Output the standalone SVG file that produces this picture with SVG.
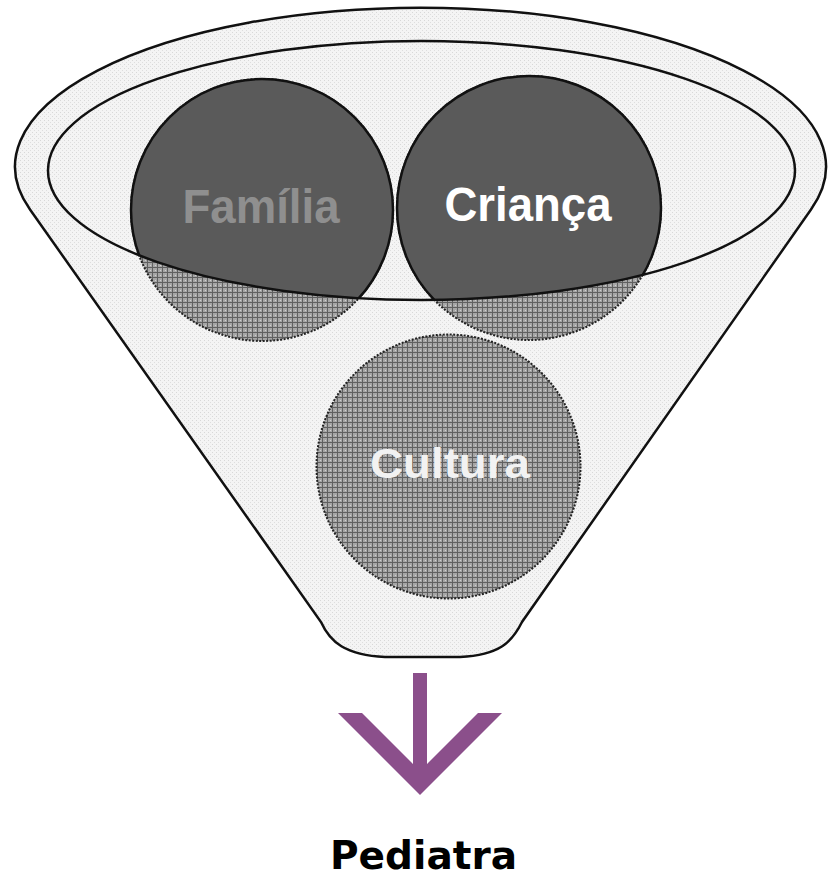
<svg xmlns="http://www.w3.org/2000/svg" width="828" height="879" viewBox="0 0 828 879">
<style>
.outline{fill:none;stroke:#111;stroke-width:2.5}
.dark{fill:#5a5a5a}
.hatch{fill:url(#hatch);stroke:#222;stroke-width:2;stroke-dasharray:2 1.5}
.lbl{font-family:"Liberation Sans",Arial,sans-serif;font-weight:bold;text-anchor:middle}
</style>
<defs>
<pattern id="light" patternUnits="userSpaceOnUse" width="4" height="4">
<rect width="4" height="4" fill="#f4f4f4"/>
<rect x="0" y="0" width="1" height="1" fill="#d8d8d8"/>
<rect x="2" y="2" width="1" height="1" fill="#dedede"/>
</pattern>
<pattern id="hatch" patternUnits="userSpaceOnUse" width="5" height="5">
<rect width="5" height="5" fill="#a6a6a6"/>
<rect x="2" y="0" width="1" height="5" fill="#606060"/>
<rect x="0" y="2" width="5" height="1" fill="#606060"/>
<rect x="0" y="0" width="1" height="1" fill="#cfcfcf"/>
</pattern>
<clipPath id="inner"><ellipse cx="421.5" cy="170.5" rx="373.5" ry="129.5"/></clipPath>
</defs>
<g id="funnel">
<path d="M30 209.5 A405.5 159 0 1 1 811 209.5 L522 622 C512 642 500 655 460 657 L385 657 C345 655 330 642 321 622 Z" fill="url(#light)" stroke="#111" stroke-width="2.5"/>
<ellipse cx="421.5" cy="170.5" rx="373.5" ry="129.5" fill="url(#light)"/>
</g>
<g id="familia">
<circle class="hatch" cx="262" cy="210" r="131"/>
<circle class="dark" cx="262" cy="210" r="131" clip-path="url(#inner)" stroke="#111" stroke-width="2.5"/>
<text class="lbl" x="261" y="223" font-size="48" fill="#8f8f8f" textLength="157" lengthAdjust="spacingAndGlyphs">Família</text>
</g>
<g id="crianca">
<circle class="hatch" cx="529" cy="208" r="132"/>
<circle class="dark" cx="529" cy="208" r="132" clip-path="url(#inner)" stroke="#111" stroke-width="2.5"/>
<text class="lbl" x="528" y="221" font-size="48" fill="#ffffff" textLength="167" lengthAdjust="spacingAndGlyphs">Criança</text>
</g>
<g id="rim">
<ellipse class="outline" cx="421.5" cy="170.5" rx="373.5" ry="129.5"/>
</g>
<g id="cultura">
<circle class="hatch" cx="448.5" cy="466.5" r="132"/>
<text class="lbl" x="450" y="478" font-size="43" fill="#f2f2f2" textLength="160" lengthAdjust="spacingAndGlyphs">Cultura</text>
</g>
<g id="connectors">
<rect x="413" y="673" width="14" height="100" fill="#8b4f8b"/>
<polygon points="338,713 420,795 502,713 478,713 420,771 362,713" fill="#8b4f8b"/>
</g>
<g id="pediatra">
<text x="423.5" y="869" font-family="'DejaVu Sans',Verdana,sans-serif" font-weight="bold" font-size="39" text-anchor="middle" fill="#000" textLength="187" lengthAdjust="spacingAndGlyphs">Pediatra</text>
</g>
</svg>
